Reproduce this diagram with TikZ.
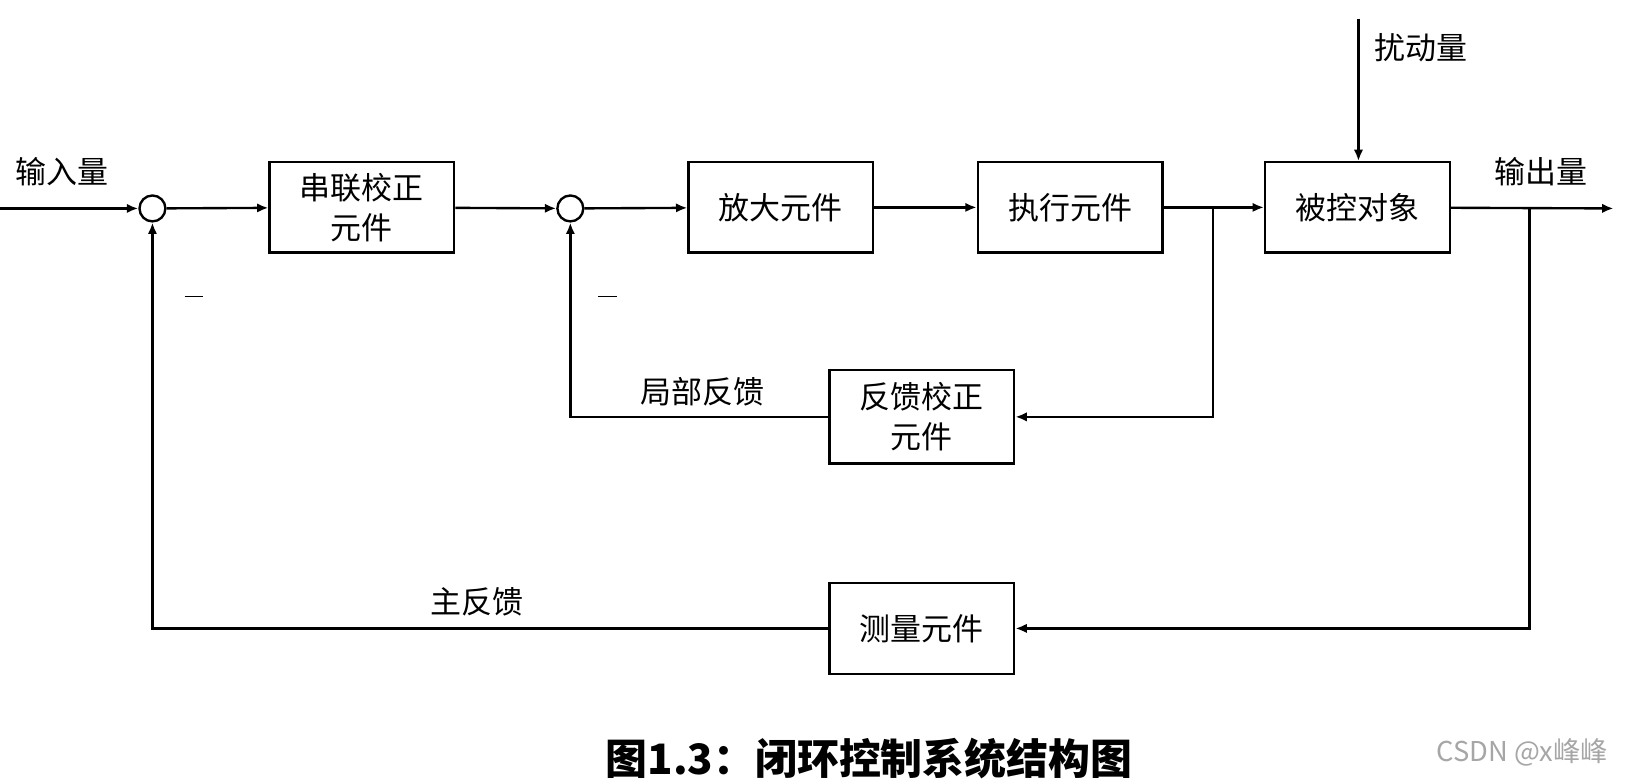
\documentclass[tikz,border=0pt]{standalone}
\usepackage{fontspec}
\setmainfont{Noto Sans CJK SC}
\usetikzlibrary{arrows.meta}

\begin{document}
\begin{tikzpicture}[x=0.02cm, y=-0.02cm, line width=1.3pt,
    block/.style={draw, minimum width=3.56cm, minimum height=1.74cm, align=center, inner sep=0pt,
      font=\fontsize{17}{22}\selectfont},
    sumnode/.style={circle, draw, minimum size=0.5cm, inner sep=0pt},
    lbl/.style={font=\fontsize{17}{22}\selectfont},
    >={Latex[length=2.2mm, width=1.8mm]}]
    \useasboundingbox (0,0) rectangle (1568,753);

    % blocks and junctions
    \node[sumnode] (s1) at (147,201) {};
    \node[block] (series) at (349,200) {串联校正\\元件};
    \node[sumnode] (s2) at (550,201) {};
    \node[block] (amp) at (753,200) {放大元件};
    \node[block] (act) at (1032,200) {执行元件};
    \node[block] (plant) at (1309,200) {被控对象};
    \node[block, minimum height=1.8cm] (fbc) at (889,402) {反馈校正\\元件};
    \node[block, minimum height=1.76cm] (meas) at (889,606) {测量元件};

    \coordinate (in) at (0,201);
    \coordinate (out) at (1556,201);
    \coordinate (dist) at (1310,18);
    \coordinate (b1) at (1170,201);
    \coordinate (b2) at (1475,201);

    % forward path
    \draw[->] (in) -- (s1);
    \draw[->] (s1) -- (series);
    \draw[->] (series) -- (s2);
    \draw[->] (s2) -- (amp);
    \draw[->] (amp) -- (act);
    \draw[->] (act) -- (plant);
    \draw[->] (plant) -- (out);
    \draw[->] (dist) -- (plant.north -| dist);

    % feedback loops
    \draw[->] (b1) |- (fbc.east);
    \draw[->] (fbc.west) -| (s2.south);
    \draw[->] (b2) |- (meas.east);
    \draw[->] (meas.west) -| (s1.south);

    % labels
    \node[lbl] (lin) at (60,166) {输入量};
    \node[lbl] (lout) at (1486,166) {输出量};
    \node[lbl] (ldist) at (1370,46) {扰动量};
    \node[lbl] (lloc) at (677,378) {局部反馈};
    \node[lbl] (lmain) at (460,580) {主反馈};
    \node (m1) at (187,286) {\rule{0.36cm}{0.6pt}};
    \node (m2) at (586,286) {\rule{0.36cm}{0.6pt}};

    \node[font=\fontsize{23}{28}\selectfont\bfseries] (cap) at (838,731) {图1.3：闭环控制系统结构图};
    \node[font=\fontsize{15}{18}\selectfont, text=gray!70] (wm) at (1468,726) {CSDN @x峰峰};
\end{tikzpicture}
\end{document}
